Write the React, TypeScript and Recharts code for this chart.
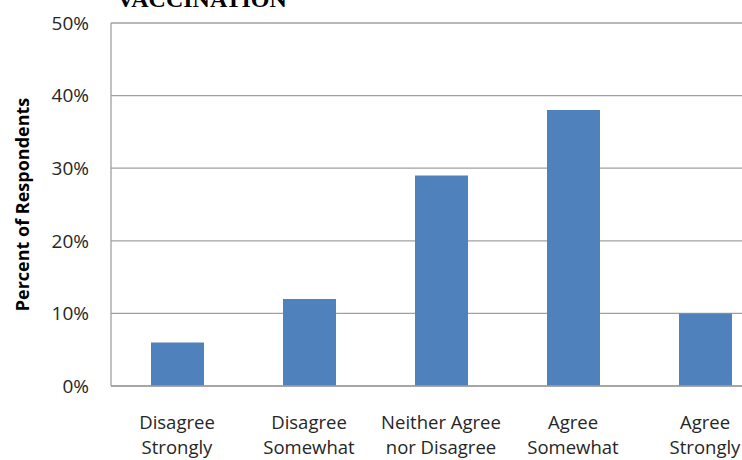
import React from "react";
import { BarChart, Bar, XAxis, YAxis, CartesianGrid, Label } from "recharts";

// Survey responses on the vaccination statement
const categories = [
  "Disagree Strongly",
  "Disagree Somewhat",
  "Neither Agree nor Disagree",
  "Agree Somewhat",
  "Agree Strongly",
];
const categoryLines = [
  ["Disagree", "Strongly"],
  ["Disagree", "Somewhat"],
  ["Neither Agree", "nor Disagree"],
  ["Agree", "Somewhat"],
  ["Agree", "Strongly"],
];
const percentValues = [6, 12, 29, 38, 10];
const yTicks = [0, 10, 20, 30, 40, 50];

const data = categories.map((name, i) => ({
  name,
  value: percentValues[i],
}));

const FONT = "'Open Sans', Lato, sans-serif";

const CategoryTick = (props: any) => {
  const { x, y, payload, index } = props;
  const lines = categoryLines[index] || [payload.value];
  return (
    <text
      x={x}
      y={y}
      textAnchor="middle"
      fill="#262626"
      fontFamily={FONT}
      fontSize={18.5}
    >
      {lines.map((ln: string, k: number) => (
        <tspan key={k} x={x} dy={k === 0 ? 35 : 25}>
          {ln}
        </tspan>
      ))}
    </text>
  );
};

const AxisTitle = (props: any) => {
  const vb = props.viewBox;
  const cx = vb.x + 22;
  const cy = vb.y + vb.height / 2;
  return (
    <text
      x={cx}
      y={cy}
      transform={`rotate(-90, ${cx}, ${cy})`}
      textAnchor="middle"
      dominantBaseline="central"
      fontFamily={FONT}
      fontWeight="bold"
      fontSize={18}
      fill="#000"
    >
      Percent of Respondents
    </text>
  );
};

export default function App() {
  return (
    <div
      style={{
        position: "fixed",
        left: 0,
        top: 0,
        width: 742,
        height: 460,
        overflow: "hidden",
        background: "#fff",
      }}
    >
      <div
        style={{
          position: "absolute",
          left: 117,
          top: -12,
          fontFamily: "'Liberation Serif', 'Times New Roman', serif",
          fontWeight: "bold",
          fontSize: 24,
          lineHeight: "23px",
          color: "#000",
          whiteSpace: "nowrap",
        }}
      >
        VACCINATION
      </div>
      <BarChart
        width={800}
        height={460}
        data={data}
        margin={{ top: 23, right: 29, left: 0, bottom: 0 }}
        barCategoryGap={0}
      >
        <CartesianGrid vertical={false} stroke="#a0a0a0" strokeWidth={1.3} />
        <XAxis
          dataKey="name"
          height={74}
          interval={0}
          axisLine={{ stroke: "#a0a0a0", strokeWidth: 1.3 }}
          tickLine={false}
          tick={<CategoryTick />}
        />
        <YAxis
          width={111}
          domain={[0, 50]}
          ticks={yTicks}
          interval={0}
          tickFormatter={(v: number) => `${v}%`}
          axisLine={{ stroke: "#a0a0a0", strokeWidth: 1.3 }}
          tickLine={false}
          tickMargin={16}
          tick={{ fill: "#262626", fontFamily: FONT, fontSize: 19 }}
        >
          <Label content={<AxisTitle />} />
        </YAxis>
        <Bar
          dataKey="value"
          fill="#4f81bd"
          barSize={53}
          isAnimationActive={false}
        />
      </BarChart>
    </div>
  );
}
